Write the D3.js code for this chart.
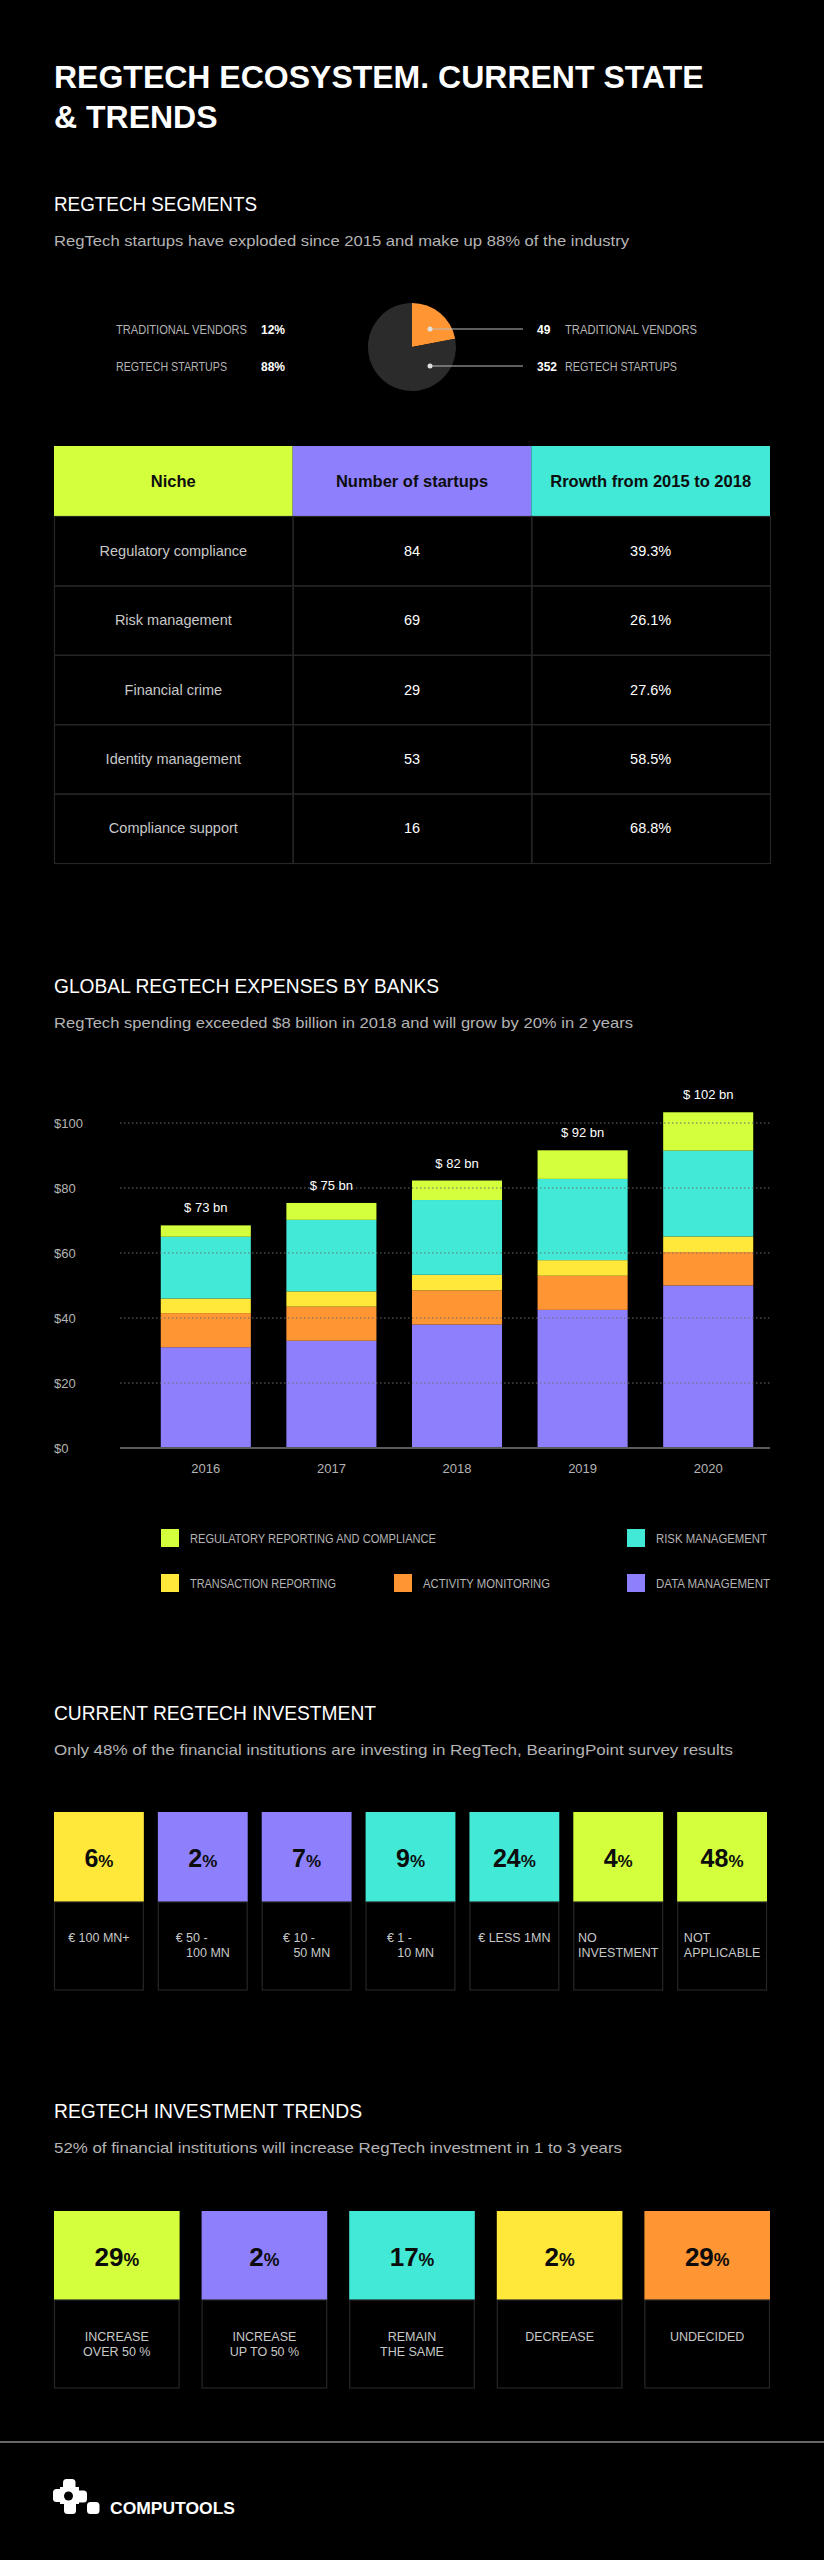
<!DOCTYPE html>
<html>
<head>
<meta charset="utf-8">
<script src="https://cdn.jsdelivr.net/npm/d3@7"></script>
<style>
  html, body { margin: 0; padding: 0; background: #000; }
  svg { display: block; }
  text { font-family: "Liberation Sans", Arial, Helvetica, sans-serif; }
</style>
</head>
<body>
<script>
// ---------------- DATA ----------------
const pieLabels = ["TRADITIONAL VENDORS", "REGTECH STARTUPS"];
const pieCounts = [49, 352];
const piePercents = ["12%", "88%"];
// slice sizes as they are drawn in the reference picture
const pieDrawnShare = [22, 78];

const tableHeaders = ["Niche", "Number of startups", "Rrowth from 2015 to 2018"];
const niches = ["Regulatory compliance", "Risk management", "Financial crime", "Identity management", "Compliance support"];
const startupCounts = [84, 69, 29, 53, 16];
const growthRates = ["39.3%", "26.1%", "27.6%", "58.5%", "68.8%"];

const years = ["2016", "2017", "2018", "2019", "2020"];
const dataManagement       = [31, 33, 38, 42.5, 50];
const activityMonitoring   = [10.5, 10.5, 10.5, 10.5, 10.3];
const transactionReporting = [4.5, 4.7, 4.8, 4.8, 4.8];
const riskManagement       = [19, 22, 23, 25, 26.4];
const regulatoryReporting  = [3.5, 5.2, 6, 8.8, 11.8];
const totalLabels = ["$ 73 bn", "$ 75 bn", "$ 82 bn", "$ 92 bn", "$ 102 bn"];
const yTicks = [0, 20, 40, 60, 80, 100];
const seriesNames = ["DATA MANAGEMENT", "ACTIVITY MONITORING", "TRANSACTION REPORTING", "RISK MANAGEMENT", "REGULATORY REPORTING AND COMPLIANCE"];

const investShares = [6, 2, 7, 9, 24, 4, 48];
const investLabels = [
  ["€ 100 MN+"],
  ["€ 50 -", "\u00a0\u00a0\u00a0100 MN"],
  ["€ 10 -", "\u00a0\u00a0\u00a050 MN"],
  ["€ 1 -", "\u00a0\u00a0\u00a010 MN"],
  ["€ LESS 1MN"],
  ["NO", "INVESTMENT"],
  ["NOT", "APPLICABLE"]
];

const trendShares = [29, 2, 17, 2, 29];
const trendLabels = [["INCREASE", "OVER 50 %"], ["INCREASE", "UP TO 50 %"], ["REMAIN", "THE SAME"], ["DECREASE"], ["UNDECIDED"]];

// ---------------- STYLE ----------------
const C = {
  lime: "#d3ff3c", purple: "#8e80fd", cyan: "#41e9d6", yellow: "#ffe83a", orange: "#ff9533",
  pieDark: "#2b2b2b", white: "#ffffff", grey: "#b4b4b4", light: "#c8c8c8", line: "#262626"
};
const seriesColors = [C.purple, C.orange, C.yellow, C.cyan, C.lime];
const investColors = [C.yellow, C.purple, C.purple, C.cyan, C.cyan, C.lime, C.lime];
const trendColors = [C.lime, C.purple, C.cyan, C.yellow, C.orange];

const W = 824, H = 2560;
const svg = d3.select("body").append("svg").attr("width", W).attr("height", H);
svg.append("rect").attr("width", W).attr("height", H).attr("fill", "#000");

function fit(sel, w) {
  const n = sel.node();
  const l = n.getComputedTextLength();
  if (Math.abs(l - w) / w > 0.015) sel.attr("textLength", w).attr("lengthAdjust", "spacingAndGlyphs");
  return sel;
}
function text(x, y, s, size, color, weight, anchor) {
  return svg.append("text").attr("x", x).attr("y", y).text(s)
    .attr("font-size", size).attr("fill", color)
    .attr("font-weight", weight || "normal")
    .attr("text-anchor", anchor || "start");
}

// ---------------- TITLE ----------------
fit(text(54, 88, "REGTECH ECOSYSTEM. CURRENT STATE", 32, C.white, "bold"), 651);
fit(text(54, 128, "& TRENDS", 32, C.white, "bold"), 166);

function section(yHead, head, headW, sub, subW) {
  fit(text(54, yHead, head, 20, C.white, "normal"), headW);
  fit(text(54, yHead + 35, sub, 15, C.grey, "normal"), subW);
}

// ---------------- SEGMENTS (pie) ----------------
section(211, "REGTECH SEGMENTS", 203, "RegTech startups have exploded since 2015 and make up 88% of the industry", 575);

const pcx = 412, pcy = 347, pr = 44;
const pieArcs = d3.pie().sort(null).value(d => d)(pieDrawnShare);
const arcGen = d3.arc().innerRadius(0).outerRadius(pr);
const pg = svg.append("g").attr("transform", `translate(${pcx},${pcy})`);
pg.selectAll("path").data(pieArcs).join("path").attr("d", arcGen)
  .attr("fill", (d, i) => i === 0 ? C.orange : C.pieDark);

const leaderY = [329, 366];
pieLabels.forEach((lab, i) => {
  svg.append("line").attr("x1", 430).attr("x2", 523).attr("y1", leaderY[i]).attr("y2", leaderY[i])
    .attr("stroke", "#bdbdbd").attr("stroke-width", 1);
  svg.append("circle").attr("cx", 430).attr("cy", leaderY[i]).attr("r", 2.5).attr("fill", "#e0e0e0");
  text(537, leaderY[i] + 4.5, String(pieCounts[i]), 12, C.white, "bold");
  fit(text(565, leaderY[i] + 4.5, lab, 12, C.grey), i === 0 ? 132 : 112);
  fit(text(116, leaderY[i] + 5, lab, 12, C.grey), i === 0 ? 131 : 111);
  text(261, leaderY[i] + 5, piePercents[i], 12, C.white, "bold");
});

// ---------------- TABLE ----------------
const tx = d3.scaleBand().domain(d3.range(3)).range([54, 770]);
const headerTop = 446, headerH = 70, rowH = 69.4;
const headColors = [C.lime, C.purple, C.cyan];
tableHeaders.forEach((h, j) => {
  svg.append("rect").attr("x", tx(j)).attr("y", headerTop).attr("width", tx.bandwidth()).attr("height", headerH)
    .attr("fill", headColors[j]);
  text(tx(j) + tx.bandwidth() / 2, headerTop + headerH / 2 + 6, h, 16.5, "#0d0d0d", "bold", "middle");
});
const rowsTop = headerTop + headerH;
niches.forEach((n, i) => {
  const y0 = rowsTop + i * rowH;
  const vals = [n, String(startupCounts[i]), growthRates[i]];
  vals.forEach((v, j) => {
    svg.append("rect").attr("x", tx(j) + 0.5).attr("y", y0 + 0.5).attr("width", tx.bandwidth()).attr("height", rowH)
      .attr("fill", "none").attr("stroke", C.line).attr("stroke-width", 1.2);
    text(tx(j) + tx.bandwidth() / 2, y0 + rowH / 2 + 5, v, 14.5, j === 0 ? C.light : C.white, "normal", "middle");
  });
});

// ---------------- BAR CHART ----------------
section(993, "GLOBAL REGTECH EXPENSES BY BANKS", 385, "RegTech spending exceeded $8 billion in 2018 and will grow by 20% in 2 years", 579);

const xBar = d3.scaleBand().domain(years).range([143, 771]).paddingInner(0.283).paddingOuter(0.1415);
const yBar = d3.scaleLinear().domain([0, 100]).range([1448, 1123]);

const barRows = years.map((yr, i) => ({
  year: yr,
  s0: dataManagement[i], s1: activityMonitoring[i], s2: transactionReporting[i],
  s3: riskManagement[i], s4: regulatoryReporting[i]
}));
const stacked = d3.stack().keys(["s0", "s1", "s2", "s3", "s4"])(barRows);

svg.append("g").selectAll("g").data(stacked).join("g")
  .attr("fill", (d, i) => seriesColors[i])
  .selectAll("rect").data(d => d).join("rect")
  .attr("x", d => xBar(d.data.year)).attr("width", xBar.bandwidth())
  .attr("y", d => yBar(d[1])).attr("height", d => yBar(d[0]) - yBar(d[1]));

// grid lines (drawn over bars)
yTicks.filter(t => t > 0).forEach(t => {
  svg.append("line").attr("x1", 120).attr("x2", 770).attr("y1", yBar(t)).attr("y2", yBar(t))
    .attr("stroke", "#6d6d6d").attr("stroke-width", 1.2).attr("stroke-dasharray", "1.5,2.5");
});
svg.append("line").attr("x1", 120).attr("x2", 770).attr("y1", yBar(0)).attr("y2", yBar(0))
  .attr("stroke", "#5a5a5a").attr("stroke-width", 2);
yTicks.forEach(t => text(54, yBar(t) + 5, "$" + t, 13, C.grey));

const topSeries = stacked[stacked.length - 1];
years.forEach((yr, i) => {
  text(xBar(yr) + xBar.bandwidth() / 2, yBar(topSeries[i][1]) - 13, totalLabels[i], 13, C.white, "normal", "middle");
  text(xBar(yr) + xBar.bandwidth() / 2, 1473, yr, 13, C.grey, "normal", "middle");
});

// legend
const legendItems = [
  { s: 4, x: 161, y: 1538, w: 246 },
  { s: 3, x: 627, y: 1538, w: 111 },
  { s: 2, x: 161, y: 1583, w: 146 },
  { s: 1, x: 394, y: 1583, w: 127 },
  { s: 0, x: 627, y: 1583, w: 114 }
];
legendItems.forEach(it => {
  svg.append("rect").attr("x", it.x).attr("y", it.y - 9).attr("width", 18).attr("height", 18).attr("fill", seriesColors[it.s]);
  fit(text(it.x + 29, it.y + 4.5, seriesNames[it.s], 12, C.grey), it.w);
});

// ---------------- CURRENT INVESTMENT ----------------
section(1720, "CURRENT REGTECH INVESTMENT", 322, "Only 48% of the financial institutions are investing in RegTech, BearingPoint survey results", 679);

function pctText(cx, by, v, big) {
  const t = svg.append("text").attr("x", cx).attr("y", by).attr("text-anchor", "middle").attr("fill", "#0c0c0c").attr("font-weight", "bold");
  t.append("tspan").attr("font-size", big).text(v);
  t.append("tspan").attr("font-size", big * 0.68).text("%");
}

const ix = d3.scaleBand().domain(d3.range(investShares.length)).range([54, 767]).paddingInner(0.135);
investShares.forEach((v, i) => {
  const x0 = ix(i), w = ix.bandwidth();
  svg.append("rect").attr("x", x0).attr("y", 1812).attr("width", w).attr("height", 90).attr("fill", investColors[i]);
  svg.append("rect").attr("x", x0 + 0.5).attr("y", 1902).attr("width", w - 1).attr("height", 88)
    .attr("fill", "none").attr("stroke", C.line).attr("stroke-width", 1.2);
  pctText(x0 + w / 2, 1867, v, 25);
  const lines = investLabels[i];
  const tmp = lines.map((s, k) => text(0, 1942 + k * 15, s, 12.5, C.light));
  const bw = d3.max(tmp, t => t.node().getComputedTextLength());
  tmp.forEach(t => t.attr("x", x0 + (w - bw) / 2));
});

// ---------------- INVESTMENT TRENDS ----------------
section(2118, "REGTECH INVESTMENT TRENDS", 308, "52% of financial institutions will increase RegTech investment in 1 to 3 years", 568);

const trx = d3.scaleBand().domain(d3.range(trendShares.length)).range([54, 770]).paddingInner(0.149);
trendShares.forEach((v, i) => {
  const x0 = trx(i), w = trx.bandwidth();
  svg.append("rect").attr("x", x0).attr("y", 2211).attr("width", w).attr("height", 89).attr("fill", trendColors[i]);
  svg.append("rect").attr("x", x0 + 0.5).attr("y", 2300).attr("width", w - 1).attr("height", 88)
    .attr("fill", "none").attr("stroke", C.line).attr("stroke-width", 1.2);
  pctText(x0 + w / 2, 2266, v, 26);
  trendLabels[i].forEach((s, k) => text(x0 + w / 2, 2341 + k * 15, s, 12.5, C.light, "normal", "middle"));
});

// ---------------- FOOTER ----------------
svg.append("line").attr("x1", 0).attr("x2", W).attr("y1", 2442).attr("y2", 2442).attr("stroke", "#8a8a8a").attr("stroke-width", 1.5);

const logo = svg.append("g").attr("fill", "#fff");
[[63, 2479, 12.5, 12.5], [53, 2489, 12.5, 13], [75, 2490.5, 12, 12], [64, 2501, 12, 13], [87, 2502, 12.5, 12]].forEach(r => {
  logo.append("rect").attr("x", r[0]).attr("y", r[1]).attr("width", r[2]).attr("height", r[3]).attr("rx", 3.5);
});
logo.append("rect").attr("x", 60).attr("y", 2487).attr("width", 19).attr("height", 17);
logo.append("circle").attr("cx", 68.5).attr("cy", 2496).attr("r", 4.5).attr("fill", "#000");
fit(text(110, 2514, "COMPUTOOLS", 17, C.white, "bold"), 125);
</script>
</body>
</html>
